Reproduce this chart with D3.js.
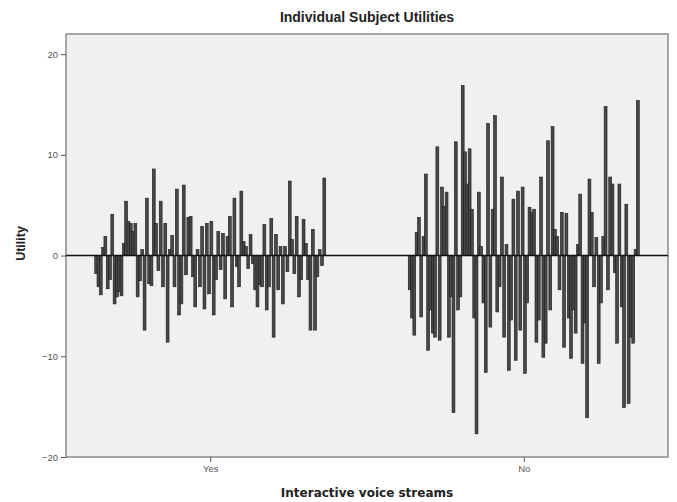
<!DOCTYPE html>
<html>
<head>
<meta charset="utf-8">
<script src="https://cdn.jsdelivr.net/npm/d3@7"></script>
<style>
  html, body { margin: 0; padding: 0; background: #fff; }
  svg { display: block; }
</style>
</head>
<body>
<svg id="chart" width="677" height="502"></svg>
<script>
// Categories of the grouping variable
const categories = ["Yes", "No"];

// Per-subject utilities, in subject order, for the "Yes" level
const utilitiesYes = [
  -1.8, -3.1, -3.9, 0.8, 1.9, -3.3, -2.4, 4.1, -4.8, -4.1,
  -3.6, -4.0, 1.2, 5.4, 3.4, 3.2, 2.4, 3.2, -4.1, -2.5,
  0.6, -7.4, 5.7, -2.8, -3.0, 8.6, 3.2, -1.5, 5.4, -3.1,
  3.2, -8.6, 0.6, 2.0, -3.1, 6.6, -5.9, -4.8, 7.0, -1.9,
  3.8, 3.9, -2.1, -5.1, 0.6, -3.1, 2.9, -5.3, 3.2, -3.8,
  3.4, -5.9, -2.4, 2.4, -1.4, 2.2, -4.3, 1.9, 3.9, -5.1,
  5.7, -1.1, -3.1, 6.4, 1.4, 0.9, -1.3, 2.1, -0.8, -3.4,
  -5.1, -2.9, -3.1, 3.1, -5.4, -3.1, 3.7, -8.1, 2.1, -3.4,
  0.9, -4.8, 0.9, -1.6, 7.4, 1.6, -1.8, 3.9, -4.1, -2.4,
  3.6, 1.2, -2.4, -7.4, 2.6, -7.4, -2.1, 0.6, -1.0, 7.7
];

// Per-subject utilities, in subject order, for the "No" level
const utilitiesNo = [
  -3.4, -6.2, -7.9, 2.3, 3.8, -6.1, 1.9, 8.1, -9.4, -5.4,
  -7.7, -8.1, 10.8, -8.4, 6.8, 4.9, 6.3, -8.1, -4.1, -15.6,
  11.3, -5.4, -4.1, 16.9, 10.3, 7.1, 10.6, 4.6, -6.2, -17.7,
  6.3, 0.9, -4.7, -11.6, 13.1, -7.1, 4.6, 13.9, -5.6, -3.1,
  7.8, -8.1, 1.1, -11.4, -6.4, 5.6, -10.4, 6.4, -7.4, 6.8,
  -11.7, -4.7, 4.8, 4.3, 4.6, -8.6, -6.4, 7.8, -10.1, -8.7,
  11.4, -5.4, 12.8, 2.6, 1.9, -3.4, 4.3, -9.1, 4.2, -6.2,
  -10.2, -5.4, -7.7, 1.1, 6.1, -10.7, -6.7, -16.1, 7.6, 4.3,
  -3.1, 1.8, -10.7, -4.7, 1.9, 14.8, -3.4, 7.8, 7.1, -1.7,
  -8.7, 7.1, -5.1, -15.1, 5.1, -14.7, -8.1, -8.7, 0.6, 15.4
];

// Value-axis ticks
const yTicks = [-20, -10, 0, 10, 20];

const chartTitle = "Individual Subject Utilities";
const xTitle = "Interactive voice streams";
const yTitle = "Utility";

const groups = [
  { key: categories[0], values: utilitiesYes },
  { key: categories[1], values: utilitiesNo }
];

const svg = d3.select("#chart");
const plot = { left: 66, right: 668, top: 34, bottom: 457 };

// Frame of the plot area
svg.append("rect")
  .attr("x", plot.left).attr("y", plot.top)
  .attr("width", plot.right - plot.left).attr("height", plot.bottom - plot.top)
  .attr("fill", "#f0f0f0")
  .attr("stroke", "#8a8a8a").attr("stroke-width", 1.5);

const x = d3.scalePoint()
  .domain(categories)
  .range([plot.left, plot.right])
  .padding(0.46);

const y = d3.scaleLinear()
  .domain([-20, 22])
  .range([plot.bottom, plot.top]);

const clusterWidth = x.step() * 0.735;

// Bars: one cluster per category, one bar per subject (neighbouring bars overlap slightly)
groups.forEach(g => {
  const inner = d3.scaleBand()
    .domain(d3.range(g.values.length))
    .range([x(g.key) - clusterWidth / 2, x(g.key) + clusterWidth / 2])
    .paddingInner(0);
  const w = inner.bandwidth() * 1.25;

  svg.append("g")
    .selectAll("rect")
    .data(g.values)
    .join("rect")
    .attr("x", (d, i) => inner(i) + inner.bandwidth() / 2 - w / 2)
    .attr("width", w)
    .attr("y", d => y(Math.max(0, d)))
    .attr("height", d => Math.abs(y(d) - y(0)))
    .attr("fill", "#484848")
    .attr("stroke", "#1a1a1a")
    .attr("stroke-width", 0.6);
});

// Reference line at zero
svg.append("line")
  .attr("x1", plot.left).attr("x2", plot.right)
  .attr("y1", y(0)).attr("y2", y(0))
  .attr("stroke", "#111").attr("stroke-width", 1.4);

// Y axis
const yAxis = svg.append("g")
  .attr("transform", `translate(${plot.left},0)`)
  .call(d3.axisLeft(y).tickValues(yTicks).tickSize(5).tickPadding(3).tickFormat(d3.format("d")));
yAxis.select(".domain").remove();
yAxis.selectAll(".tick line").attr("stroke", "#555");
yAxis.selectAll(".tick text")
  .attr("fill", "#555")
  .style("font-family", "'Liberation Sans', Arial, sans-serif")
  .style("font-size", "9.5px");

// X axis
const xAxis = svg.append("g")
  .attr("transform", `translate(0,${plot.bottom})`)
  .call(d3.axisBottom(x).tickSize(5).tickPadding(3));
xAxis.select(".domain").remove();
xAxis.selectAll(".tick line").attr("stroke", "#555");
xAxis.selectAll(".tick text")
  .attr("fill", "#555")
  .style("font-family", "'Liberation Sans', Arial, sans-serif")
  .style("font-size", "9.5px");

// Titles
svg.append("text")
  .attr("x", (plot.left + plot.right) / 2).attr("y", 22)
  .attr("text-anchor", "middle")
  .style("font-family", "'Liberation Sans', Arial, sans-serif")
  .style("font-weight", "bold").style("font-size", "14px")
  .attr("fill", "#222")
  .text(chartTitle);

svg.append("text")
  .attr("x", (plot.left + plot.right) / 2).attr("y", 497)
  .attr("text-anchor", "middle")
  .style("font-family", "'DejaVu Sans', Verdana, sans-serif")
  .style("font-weight", "bold").style("font-size", "12px")
  .attr("fill", "#222")
  .text(xTitle);

svg.append("text")
  .attr("transform", `translate(25,${y(1.2)}) rotate(-90)`)
  .attr("text-anchor", "middle")
  .style("font-family", "'Liberation Sans', Arial, sans-serif")
  .style("font-weight", "bold").style("font-size", "12.5px")
  .attr("fill", "#222")
  .text(yTitle);
</script>
</body>
</html>
